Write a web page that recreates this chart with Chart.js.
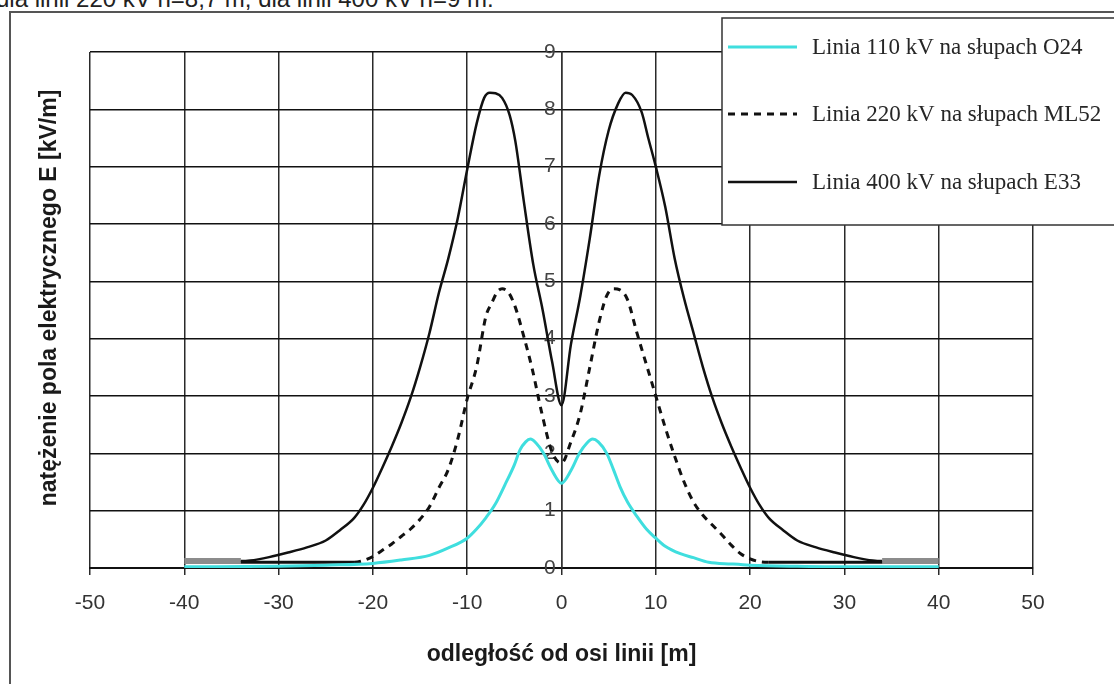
<!DOCTYPE html>
<html lang="pl">
<head>
<meta charset="utf-8">
<title>Natężenie pola elektrycznego pod liniami</title>
<script src="https://cdn.jsdelivr.net/npm/chart.js@4.4.1/dist/chart.umd.min.js"></script>
<style>
  html, body { margin: 0; padding: 0; background: #fff; overflow: hidden; }
  #wrap { position: relative; width: 1114px; height: 684px; overflow: hidden; }
  #caption { position: absolute; left: -4px; top: -13px; font: 24px Arial, "Liberation Sans", sans-serif; line-height: 24px; color: #222; white-space: nowrap; }
  #frame { position: absolute; left: 9px; top: 11px; width: 1200px; height: 800px; border: 2px solid #555; }
  #chart { position: absolute; left: 0; top: 0; }
</style>
</head>
<body>
<div id="wrap">
  <div id="caption">dla linii 220 kV h=8,7 m, dla linii 400 kV h=9 m.</div>
  <div id="frame"></div>
  <canvas id="chart" width="1114" height="684"></canvas>
</div>
<script>
// odległość od osi linii [m] i natężenie pola E [kV/m]
const x110 = [-40, -30, -25, -20, -17, -14, -12, -10, -9, -8, -7, -6, -5, -4.4, -3.8, -3.3, -2.7, -1.9, -1, 0,
              1, 1.9, 2.7, 3.3, 3.9, 4.8, 5.5, 6.2, 7, 8, 9, 10, 11, 12.6, 14, 15.6, 18, 20, 25, 30, 40];
const e110 = [0.02, 0.03, 0.05, 0.08, 0.14, 0.22, 0.35, 0.52, 0.68, 0.88, 1.12, 1.45, 1.8, 2.06, 2.2, 2.25, 2.18, 2.0, 1.7, 1.48,
              1.7, 2.0, 2.18, 2.25, 2.2, 2.0, 1.72, 1.42, 1.15, 0.9, 0.68, 0.52, 0.38, 0.25, 0.18, 0.1, 0.07, 0.05, 0.03, 0.02, 0.02];

const x220 = [-40, -30, -22, -21, -20, -19, -18, -17, -16, -15, -14, -13, -12, -11, -10, -9, -8, -7.4, -6.8, -6.3, -5.6, -4.9, -4, -3.1, -2.1, -1, 0,
              1, 2, 3, 4, 4.8, 5.5, 6.2, 7, 8, 9, 10, 11, 12, 13, 14, 15, 16, 17, 18, 19, 20, 21, 22, 30, 40];
const e220 = [0.1, 0.1, 0.1, 0.13, 0.2, 0.31, 0.42, 0.55, 0.68, 0.85, 1.07, 1.4, 1.72, 2.25, 2.95, 3.51, 4.4, 4.62, 4.82, 4.87, 4.8, 4.55, 4.04, 3.47, 2.71, 2.02, 1.83,
              2.2, 2.7, 3.5, 4.3, 4.75, 4.87, 4.85, 4.68, 4.1, 3.55, 3.0, 2.45, 1.95, 1.5, 1.15, 0.92, 0.75, 0.58, 0.4, 0.25, 0.16, 0.11, 0.1, 0.1, 0.1];

const x400 = [-40, -37, -34, -33, -31, -29, -27, -25, -23.5, -22, -21, -20, -19, -18, -17, -16, -15, -14, -13, -12, -11, -10, -9, -8.2, -7.6, -7, -6.3, -5.5, -4.9, -4, -3, -2, -1, 0,
              1, 2, 3, 4, 5, 6, 6.8, 7.5, 8.5, 9.2, 10, 11, 12, 13, 14, 15, 16, 17, 18, 19, 20, 21, 22, 23.5, 25, 27, 29, 31, 33, 34, 37, 40];
const e400 = [0.12, 0.12, 0.12, 0.13, 0.19, 0.27, 0.36, 0.48, 0.66, 0.87, 1.1, 1.4, 1.75, 2.12, 2.52, 2.97, 3.5, 4.1, 4.8, 5.4, 6.1, 6.95, 7.75, 8.2, 8.29, 8.28, 8.2, 7.9, 7.45, 6.4, 5.3, 4.5, 3.6, 2.84,
              3.9, 4.75, 5.75, 6.85, 7.63, 8.1, 8.29, 8.25, 7.95, 7.5, 7.0, 6.3, 5.4, 4.7, 4.1, 3.5, 2.97, 2.52, 2.12, 1.75, 1.4, 1.1, 0.87, 0.66, 0.48, 0.36, 0.27, 0.19, 0.13, 0.12, 0.12, 0.12];

const seriesNames = ['Linia 110 kV na słupach O24', 'Linia 220 kV na słupach ML52', 'Linia 400 kV na słupach E33'];
const xTicks = { min: -50, max: 50, step: 10 };
const yTicks = { min: 0, max: 9, step: 1 };
const xTitle = 'odległość od osi linii [m]';
const yTitle = 'natężenie pola elektrycznego E [kV/m]';

function points(xs, ys) {
    return xs.map((x, i) => ({ x: x, y: ys[i] }));
}

// płaskie końcówki przebiegów (poza zasięgiem pola)
function beyond(ctx, limit) {
    return Math.abs(ctx.p0.parsed.x) >= limit && Math.abs(ctx.p1.parsed.x) >= limit;
}

// legenda w ramce i tytuł osi Y rysowane po wykresie
const boxLegend = {
    id: 'boxLegend',
    afterDraw(chart) {
        const ctx = chart.ctx;
        ctx.save();
        ctx.translate(50, 298);
        ctx.rotate(-Math.PI / 2);
        ctx.font = 'bold 23px Arial, "Liberation Sans", sans-serif';
        ctx.fillStyle = '#1a1a1a';
        ctx.textAlign = 'center';
        ctx.textBaseline = 'middle';
        ctx.fillText(yTitle, 0, 0);
        ctx.restore();

        ctx.save();
        ctx.fillStyle = '#fff';
        ctx.fillRect(722, 18, 420, 207);
        ctx.strokeStyle = '#333';
        ctx.lineWidth = 1.5;
        ctx.strokeRect(722, 18, 420, 207);
        const rows = [47, 114, 182];
        chart.data.datasets.forEach((ds, i) => {
            ctx.beginPath();
            ctx.strokeStyle = ds.borderColor;
            ctx.lineWidth = ds.borderWidth;
            ctx.setLineDash(ds.borderDash || []);
            ctx.moveTo(728, rows[i]);
            ctx.lineTo(797, rows[i]);
            ctx.stroke();
            ctx.setLineDash([]);
            ctx.font = '23px "Liberation Serif", "Times New Roman", serif';
            ctx.fillStyle = '#262626';
            ctx.textAlign = 'left';
            ctx.textBaseline = 'middle';
            ctx.fillText(ds.label, 812, rows[i] + 1);
        });
        ctx.restore();
    }
};

const ctx = document.getElementById('chart').getContext('2d');
const chart = new Chart(ctx, {
    type: 'line',
    data: {
        datasets: [{
            label: seriesNames[0],
            data: points(x110, e110),
            borderColor: '#3fdede',
            borderWidth: 3,
            pointRadius: 0,
            order: 0,
            cubicInterpolationMode: 'monotone'
        }, {
            label: seriesNames[1],
            data: points(x220, e220),
            borderColor: '#111',
            borderWidth: 3,
            borderDash: [7, 6],
            pointRadius: 0,
            order: 2,
            cubicInterpolationMode: 'monotone',
            segment: {
                borderDash: c => beyond(c, 21.5) ? [] : undefined
            }
        }, {
            label: seriesNames[2],
            data: points(x400, e400),
            borderColor: '#111',
            borderWidth: 2.5,
            pointRadius: 0,
            order: 1,
            cubicInterpolationMode: 'monotone',
            segment: {
                borderColor: c => beyond(c, 33.5) ? '#8c8c8c' : undefined,
                borderWidth: c => beyond(c, 33.5) ? 6 : undefined
            }
        }]
    },
    options: {
        responsive: false,
        animation: false,
        devicePixelRatio: 1,
        layout: { padding: { left: 90, right: 81, top: 52, bottom: 0 } },
        plugins: {
            legend: { display: false },
            tooltip: { enabled: false }
        },
        scales: {
            x: {
                type: 'linear',
                min: xTicks.min,
                max: xTicks.max,
                afterFit: function (scale) { scale.height = 116; },
                ticks: {
                    stepSize: xTicks.step,
                    maxRotation: 0,
                    padding: 16,
                    color: '#333',
                    font: { family: 'Arial, "Liberation Sans", sans-serif', size: 21 }
                },
                grid: { color: '#2a2a2a', lineWidth: 1.5, tickLength: 7 },
                border: { color: '#111', width: 2 },
                title: {
                    display: true,
                    text: xTitle,
                    color: '#1a1a1a',
                    padding: { top: 0, bottom: 16 },
                    font: { family: 'Arial, "Liberation Sans", sans-serif', size: 23, weight: 'bold' }
                }
            },
            y: {
                position: { x: 0 },
                min: yTicks.min,
                max: yTicks.max,
                ticks: {
                    stepSize: yTicks.step,
                    color: '#444',
                    font: { family: 'Arial, "Liberation Sans", sans-serif', size: 21 },
                    callback: value => value + ' '
                },
                grid: { color: '#111', lineWidth: 1.5, drawTicks: false },
                border: { color: '#333', width: 1.5 }
            }
        }
    },
    plugins: [boxLegend]
});
</script>
</body>
</html>
